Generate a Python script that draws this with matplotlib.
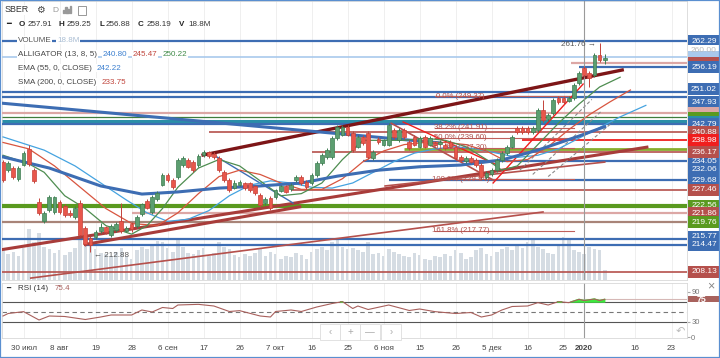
import numpy as np
import matplotlib.pyplot as plt
from matplotlib.patches import Rectangle
import matplotlib.transforms as mtransforms

plt.rcParams['font.family'] = ['Liberation Sans', 'DejaVu Sans']

# daily candles, bar 0 = 24 Jul 2019 ... bar 117 = 10 Jan 2020
opens = [233.9, 232.0, 232.5, 229.9, 233.3, 237.0, 232.0, 224.5, 220.0, 222.7,
         222.2, 224.5, 223.5, 222.0, 221.0, 224.3, 218.5, 216.1, 216.4, 217.8,
         218.6, 216.8, 218.0, 220.1, 217.8, 219.4, 218.8, 221.7, 224.8, 222.2,
         225.3, 228.6, 230.9, 229.7, 230.4, 233.2, 234.4, 233.9, 233.2, 235.6,
         236.2, 235.9, 234.9, 231.6, 229.7, 227.9, 228.6, 228.9, 228.9, 228.2,
         226.2, 224.3, 225.5, 225.7, 227.2, 228.2, 227.6, 229.7, 230.4, 229.2,
         229.0, 230.9, 233.7, 235.1, 235.1, 239.5, 240.3, 242.1, 240.7, 237.5,
         239.8, 240.7, 234.9, 239.3, 238.0, 238.0, 241.4, 239.1, 241.4, 238.6,
         239.8, 237.5, 239.8, 238.0, 238.4, 238.2, 238.0, 238.7, 237.5, 235.1,
         234.2, 234.9, 234.4, 233.2, 230.4, 231.0, 232.0, 234.4, 236.0, 237.5,
         241.9, 241.9, 241.9, 241.0, 241.4, 246.1, 244.0, 245.4, 248.9, 248.9,
         248.3, 248.9, 252.4, 256.0, 254.8, 254.3, 259.0, 257.91]
closes = [229.7, 233.7, 230.4, 232.5, 236.0, 233.5, 229.5, 222.0, 222.0, 225.7,
          225.7, 222.2, 221.5, 221.6, 223.1, 216.8, 214.7, 214.5, 217.5, 218.6,
          217.6, 218.8, 219.4, 217.7, 218.5, 218.2, 221.0, 224.0, 223.2, 225.7,
          226.6, 230.9, 229.7, 228.0, 234.4, 234.9, 232.8, 232.0, 235.4, 236.3,
          235.3, 235.0, 232.0, 229.7, 227.4, 229.0, 229.3, 227.8, 227.4, 226.6,
          223.8, 225.2, 223.1, 227.3, 228.2, 227.0, 228.6, 230.4, 229.0, 228.0,
          230.9, 233.7, 235.6, 236.7, 239.5, 242.1, 242.1, 240.3, 236.7, 239.8,
          238.4, 235.1, 236.3, 238.5, 239.0, 242.6, 239.8, 241.4, 239.8, 237.2,
          238.0, 239.5, 237.5, 239.5, 238.0, 238.6, 237.2, 237.5, 234.9, 234.4,
          234.9, 234.0, 233.2, 230.4, 231.3, 232.0, 234.4, 236.0, 237.5, 239.8,
          241.0, 241.0, 241.0, 241.9, 246.1, 243.8, 245.0, 248.5, 248.0, 248.0,
          248.9, 252.0, 254.8, 254.3, 253.6, 259.0, 257.8, 258.19]
highs = [234.5, 234.2, 233.0, 233.0, 236.5, 238.0, 232.5, 225.5, 222.5, 226.2,
         226.0, 225.0, 224.0, 222.6, 223.5, 225.0, 219.0, 216.5, 218.0, 219.5,
         219.0, 219.4, 219.8, 224.3, 219.0, 219.8, 221.5, 224.4, 225.3, 226.2,
         227.2, 231.4, 231.3, 230.1, 234.8, 235.4, 234.8, 234.3, 235.8, 236.8,
         236.6, 236.3, 235.3, 232.0, 230.1, 229.6, 229.8, 229.3, 229.3, 228.6,
         226.6, 225.7, 226.0, 227.7, 228.6, 228.6, 229.0, 230.8, 230.8, 229.6,
         231.3, 234.1, 236.0, 237.1, 239.9, 242.5, 242.6, 242.5, 241.1, 240.2,
         240.2, 241.1, 236.7, 239.7, 239.4, 243.0, 241.8, 241.8, 241.8, 239.0,
         240.2, 239.9, 240.2, 239.9, 238.8, 239.0, 238.4, 239.1, 237.9, 235.5,
         235.3, 235.3, 234.8, 233.6, 231.7, 232.4, 234.8, 236.4, 237.9, 240.2,
         242.3, 242.3, 242.3, 242.3, 246.5, 248.4, 245.4, 248.9, 249.3, 249.3,
         249.4, 252.4, 255.2, 256.4, 255.2, 259.4, 261.76, 259.25]
lows = [229.3, 231.6, 230.0, 229.5, 233.0, 233.0, 229.0, 221.5, 219.5, 222.3,
        221.8, 221.8, 221.0, 221.0, 220.6, 216.5, 214.2, 212.88, 215.8, 217.3,
        217.0, 216.4, 217.6, 217.3, 217.4, 217.6, 218.4, 221.3, 222.8, 221.8,
        224.8, 228.2, 229.2, 227.5, 230.0, 232.8, 232.4, 231.5, 232.8, 235.2,
        234.9, 234.6, 231.6, 229.3, 227.0, 227.5, 228.2, 227.4, 227.0, 226.2,
        223.4, 223.9, 222.7, 225.3, 226.8, 226.6, 227.2, 229.3, 228.6, 227.6,
        228.6, 230.5, 233.3, 234.7, 234.7, 239.1, 239.9, 239.9, 236.3, 237.1,
        238.0, 234.7, 234.5, 238.1, 237.6, 237.6, 239.4, 238.7, 239.4, 236.8,
        237.6, 237.1, 237.1, 237.6, 237.6, 237.8, 236.8, 237.1, 234.5, 234.0,
        233.8, 233.6, 232.8, 229.84, 230.0, 230.6, 231.6, 234.0, 235.6, 237.1,
        240.6, 240.6, 240.6, 240.6, 241.0, 243.4, 243.6, 245.0, 247.6, 247.6,
        247.9, 248.5, 252.0, 253.9, 251.5, 253.9, 257.4, 256.88]
volumes = [55, 48, 52, 45, 60, 95, 70, 88, 62, 58,
           50, 55, 47, 52, 60, 85, 80, 75, 58, 50,
           48, 45, 52, 60, 44, 40, 55, 62, 58, 66,
           72, 70, 60, 52, 75, 62, 50, 48, 55, 60,
           45, 50, 70, 62, 58, 46, 42, 48, 45, 50,
           60, 44, 52, 48, 40, 45, 42, 50, 46, 40,
           52, 58, 62, 55, 70, 75, 62, 58, 60, 56,
           52, 70, 48, 50, 45, 58, 52, 48, 44, 42,
           50, 46, 40, 38, 45, 42, 48, 44, 55, 50,
           40, 42, 55, 60, 48, 45, 52, 58, 62, 55,
           65, 60, 70, 75, 62, 58, 50, 48, 66, 80,
           78, 56, 52, 48, 62, 58, 55, 18.8]

# indicator lines: (bar, value)
ema55_x = [0, 9, 19, 27, 34, 42, 50, 58, 65, 73, 81, 89, 97, 104, 112, 117]
ema55_y = [235.1, 232.5, 228.3, 226.4, 226.9, 227.8, 228.3, 229.0, 230.6, 232.0,
           232.8, 233.2, 234.4, 236.7, 240.0, 242.2]
jaw_x = [0, 8, 14, 19, 24, 28, 32, 36, 40, 44, 48, 52, 56, 60, 64, 68, 72, 76,
         80, 84, 88, 92, 96, 100, 104, 108, 112, 116, 120, 125]
jaw_y = [239.8, 236.7, 233.0, 229.0, 225.0, 222.0, 220.0, 220.5, 222.5, 226.0,
         228.5, 229.5, 229.0, 228.0, 227.8, 229.0, 231.5, 234.0, 236.0, 237.0,
         237.5, 237.0, 236.0, 235.0, 235.5, 237.0, 239.5, 242.0, 244.5, 247.2]
teeth_x = [0, 5, 10, 15, 20, 25, 30, 34, 38, 42, 46, 50, 54, 58, 62, 66, 70, 74,
           78, 82, 86, 90, 94, 98, 102, 106, 110, 114, 118, 122]
teeth_y = [238.5, 237.0, 233.0, 228.0, 223.0, 219.5, 219.0, 222.0, 226.5, 230.5,
           232.0, 231.0, 229.0, 227.5, 227.5, 230.0, 234.0, 236.5, 238.0, 238.5,
           238.5, 238.0, 236.5, 234.0, 234.5, 237.5, 241.5, 245.0, 248.0, 250.8]
lips_x = [0, 5, 8, 12, 16, 20, 25, 28, 31, 34, 38, 42, 46, 50, 54, 58, 62, 66,
          70, 74, 78, 82, 86, 90, 94, 97, 100, 104, 108, 112, 116, 120]
lips_y = [235.5, 233.5, 231.5, 226.0, 223.0, 219.0, 217.0, 219.0, 223.0, 228.0,
          232.5, 234.5, 233.0, 229.5, 226.0, 226.5, 229.0, 234.5, 239.0, 239.0,
          239.0, 239.5, 239.0, 237.5, 234.5, 232.0, 233.0, 238.0, 243.0, 247.5,
          251.5, 253.8]
rsi_x = [0, 1, 4, 7, 9, 12, 16, 19, 21, 25, 27, 29, 31, 33, 34, 38, 41, 44, 46, 50,
         52, 53, 56, 58, 61, 64, 66, 68, 69, 71, 75, 79, 81, 84, 88, 91, 93, 95, 97, 99,
         102, 104, 106, 108, 110, 112, 113, 115, 116, 117]
rsi_y = [42, 47, 50.7, 34, 42, 41, 35, 40, 44, 44, 54, 50, 59, 57, 64, 65.3, 62, 51, 52.7, 42,
         40, 51, 54, 51, 60, 67, 70.7, 57, 62, 55, 64, 53, 56, 50.7, 47, 49, 40, 44, 54, 61,
         62, 68.7, 64, 70.7, 68.7, 75.3, 72.7, 76, 72.7, 75.4]

# horizontal levels: price and first bar (None = whole width)
level_prices = [262.29, 258.5, 257.1, 256.19, 250.4, 249.2, 245.4, 244.5, 243.6,
                242.79, 240.88, 238.98, 236.9, 236.17, 234.05, 229.68, 227.46,
                223.6, 221.86, 219.76, 215.77, 214.47, 208.13]
level_start = [None, None, 110.5, 112, None, None, None, None, None,
               None, 40, 101, 78, 60, 70, 75, 56,
               None, 25, None, None, 16, None]
level_kind = ['blue', 'lblue', 'pink', 'blue', 'blue', 'blue', 'pink', 'dgreen', 'teal',
              'blue', 'red', 'bred', 'olive', 'red', 'blue', 'blue', 'red',
              'green', 'pink', 'brown', 'blue', 'blue', 'red']

# trend lines drawn on the chart: (bar, price) pairs
trend_lines = [
    [(38.9, 235.56), (120.4, 255.49)],
    [(-0.6, 213.3), (125.2, 237.4)],
    [(16.0, 214.6), (57.7, 223.4)],
    [(5.4, 206.7), (105.0, 222.2)],
    [(74.3, 228.3), (117.0, 233.9)],
    [(-0.6, 247.75), (85.0, 238.4)],
    [(41.6, 235.1), (56.4, 224.3)],
    [(77.8, 243.3), (96.1, 233.2)],
    [(95.3, 229.0), (112.8, 252.2)],
    [(75.5, 243.0), (95.3, 229.7)],
]
trend_kind = ['maroon', 'brick', 'brick', 'red', 'red', 'blue', 'blue', 'bred', 'bred', 'red']
dashed_lines = [
    [(100.5, 232.0), (114.5, 248.6)],
    [(103.0, 231.0), (116.5, 246.0)],
    [(106.0, 230.5), (118.5, 243.2)],
]

fib_levels = [249.37, 241.91, 239.60, 237.30, 229.84, 217.77]
fib_names = ['0.0%', '38.2%', '50.0%', '61.8%', '100.0%', '161.8%']

# right side price labels, drawn in this order
tag_prices = [262.29, 260.0, 258.5, 257.1, 256.19, 251.0, 247.93, 245.4, 244.3, 243.4,
              242.79, 240.88, 238.98, 232.06, 234.05, 236.17, 229.68, 227.46,
              223.65, 221.86, 219.76, 216.35, 214.47, 208.13]
tag_text = ['262.29', '260.00', '', '', '256.19', '251.02', '247.93', '', '', '',
            '242.79', '240.88', '238.98', '232.06', '234.05', '236.17', '229.68', '227.46',
            '222.56', '221.86', '219.76', '215.77', '214.47', '208.13']
tag_kind = ['blue', 'white', 'lblue', 'red', 'blue', 'blue', 'blue', 'pink', 'green', 'teal',
            'blue', 'red', 'bred', 'blue', 'blue', 'red', 'blue', 'red',
            'green', 'red', 'green', 'blue', 'blue', 'red']

tick_pos = [4, 11, 18, 25, 32, 39, 46, 53, 60, 67, 74, 81, 88, 95, 102, 109, 113, 122.9, 130]
tick_lab = ['30 июл', '8 авг', '19', '28', '6 сен', '17', '26', '7 окт', '16', '25',
            '6 ноя', '15', '26', '5 дек', '16', '25', '2020', '16', '23']

colors = {'blue': '#3d6db3', 'lblue': '#a9c9ec', 'pink': '#dca7a5', 'dgreen': '#3f7d3c',
          'teal': '#2a8fa8', 'red': '#b5504c', 'bred': '#f01e1e', 'olive': '#86ad2e',
          'green': '#5a9a1f', 'brown': '#a88478', 'maroon': '#7d1517', 'brick': '#a83c3a',
          'white': '#ffffff'}

W, H = 720, 358
fig = plt.figure(figsize=(W / 100, H / 100), dpi=100)


def fx(px):
    return px / W


def fy(py):
    return 1 - py / H


LEFT, RIGHT = 2, 687
rect_main = [fx(LEFT), fy(280), fx(RIGHT) - fx(LEFT), fy(1) - fy(280)]
axv = fig.add_axes(rect_main, zorder=0)
ax = fig.add_axes(rect_main, zorder=1)
ax.patch.set_alpha(0)
axr = fig.add_axes([fx(LEFT), fy(338), fx(RIGHT) - fx(LEFT), fy(283) - fy(338)])

xlim = (-0.2, 133.0)
ylim = (206.25, 271.67)
n = len(closes)
idx = np.arange(n)

# volume under everything
axv.bar(idx, volumes, width=0.7, color='#d5dce3', zorder=1)
axv.set_xlim(xlim)
axv.set_ylim(0, 520)
axv.set_xticks(tick_pos)
axv.set_yticks([])
axv.tick_params(length=0, labelbottom=False)
axv.grid(axis='x', color='#efefef', lw=0.7)
for s in axv.spines.values():
    s.set_color('#d8d8d8')
    s.set_linewidth(0.6)

ax.set_xlim(xlim)
ax.set_ylim(ylim)
ax.set_xticks([])
ax.set_yticks([])
for s in ax.spines.values():
    s.set_visible(False)

# horizontal levels
for p, st, k in zip(level_prices, level_start, level_kind):
    x0 = xlim[0] if st is None else st
    lw = {'blue': 1.6, 'teal': 2.2, 'green': 3.0, 'olive': 2.0, 'pink': 1.6, 'lblue': 1.2,
          'dgreen': 0.9, 'red': 1.2, 'bred': 1.3, 'brown': 1.6}[k]
    ax.plot([x0, xlim[1]], [p, p], color=colors[k], lw=lw, zorder=2, solid_capstyle='butt')

# fibonacci levels
for p, nm in zip(fib_levels, fib_names):
    ax.plot([84, 111], [p, p], color='#c0605c', lw=0.8, zorder=3)
    ax.text(89, p, f'{nm} ({p:.2f})', fontsize=5.6, color='#b0504c', ha='center',
            va='center', zorder=6)

# trend lines
for seg, k in zip(trend_lines, trend_kind):
    (x0, y0), (x1, y1) = seg
    lw = {'maroon': 2.4, 'brick': 2.2, 'red': 1.2, 'blue': 2.2, 'bred': 1.0}[k]
    if k == 'blue' and x0 > 20:
        lw = 1.0
    ax.plot([x0, x1], [y0, y1], color=colors[k], lw=lw, zorder=3)
for (x0, y0), (x1, y1) in dashed_lines:
    ax.plot([x0, x1], [y0, y1], color='#8a8a8a', lw=0.8, ls=(0, (3, 2)), zorder=3)

# alligator and ema
ax.plot(jaw_x, jaw_y, color='#45a3e0', lw=0.9, zorder=4)
ax.plot(teeth_x, teeth_y, color='#d8553f', lw=0.9, zorder=4)
ax.plot(lips_x, lips_y, color='#4e8d50', lw=0.9, zorder=4)
ax.plot(ema55_x, ema55_y, color='#3d6db3', lw=2.2, zorder=4)

# candles
o = np.array(opens)
c = np.array(closes)
up = c >= o
body_col = np.where(up, '#5c9e70', '#e8574b')
edge_col = np.where(up, '#3f7d52', '#c4423a')
ax.vlines(idx, lows, highs, colors=edge_col, lw=0.7, zorder=5)
ax.bar(idx, np.maximum(np.abs(c - o), 0.18), bottom=np.minimum(o, c), width=0.72,
       color=body_col, edgecolor=edge_col, lw=0.5, zorder=6)

ax.axvline(113, color='#9a9a9a', lw=0.8, zorder=4)

# extremes
ax.text(17.6, 212.0, '← 212.88', fontsize=5.8, color='#555555', va='center', zorder=7)
ax.text(115.3, 261.4, '261.76 →', fontsize=5.8, color='#555555', ha='right', va='center',
        zorder=7)

# price tags on the right
btrans = mtransforms.blended_transform_factory(ax.transAxes, ax.transData)
bx, bw, bh = (688 - LEFT) / (RIGHT - LEFT), 32 / (RIGHT - LEFT), 12 / 4.265
for p, t, k in zip(tag_prices, tag_text, tag_kind):
    fc = colors[k]
    ax.add_patch(Rectangle((bx, p - bh / 2), bw, bh, transform=btrans, facecolor=fc,
                           edgecolor='none', clip_on=False, zorder=8))
    tc = '#bbbbbb' if k == 'white' else 'white'
    ax.text(bx + bw / 2, p, t, transform=btrans, fontsize=6.0, color=tc, ha='center',
            va='center', clip_on=False, zorder=9)

# RSI panel
axr.set_xlim(xlim)
axr.set_ylim(-2, 108)
axr.axhline(70, color='#555555', lw=0.8)
axr.axhline(30, color='#555555', lw=0.8)
axr.axhline(50, color='#777777', lw=0.8, ls=(0, (4, 3)))
axr.plot(rsi_x, rsi_y, color='#a8605c', lw=0.8, zorder=4)
ry = np.array(rsi_y, dtype=float)
axr.fill_between(rsi_x, 70, ry, where=ry > 70, interpolate=True, color='#3ee83e', zorder=3)
axr.plot([112, xlim[1]], [75.4, 75.4], color='#d6b8b6', lw=0.8)
axr.axvline(113, color='#9a9a9a', lw=0.8)
axr.set_xticks(tick_pos)
axr.set_xticklabels(tick_lab, fontsize=5.8, color='#444444')
axr.get_xticklabels()[16].set_fontweight('bold')
axr.tick_params(axis='x', length=0, pad=5)
axr.grid(axis='x', color='#efefef', lw=0.7)
axr.yaxis.tick_right()
axr.set_yticks([0, 30, 90])
axr.set_yticklabels(['0', '30', '90'], fontsize=5.5, color='#777777')
axr.tick_params(axis='y', length=2, color='#aaaaaa', pad=1)
for s in axr.spines.values():
    s.set_color('#d8d8d8')
    s.set_linewidth(0.6)
rtrans = mtransforms.blended_transform_factory(axr.transAxes, axr.transData)
axr.add_patch(Rectangle((bx, 75.4 - 6), bw, 12, transform=rtrans, facecolor='#a8625d',
                        edgecolor='none', clip_on=False, zorder=8))
axr.text(bx + 0.012, 75.4, '75', transform=rtrans, fontsize=6.4, color='white',
         fontweight='bold', va='center', clip_on=False, zorder=9)
axr.text(0.006, 98, '━', transform=rtrans, fontsize=5, color='#333333', va='center')
axr.text(0.024, 98, 'RSI (14)', transform=rtrans, fontsize=5.8, color='#333333', va='center')
axr.text(0.077, 98, '75.4', transform=rtrans, fontsize=5.8, color='#a8605c', va='center')

# navigation buttons and little icons
for px, s in [(330, '‹'), (350, '+'), (370, '—'), (391, '›')]:
    fig.patches.append(Rectangle((fx(px - 10), fy(340)), 20 / W, 16 / H, transform=fig.transFigure,
                                 facecolor='white', edgecolor='#dddddd', lw=0.6))
    fig.text(fx(px), fy(332), s, fontsize=7, color='#aaaaaa', ha='center', va='center')
fig.text(fx(680), fy(331), '↶', fontsize=8, color='#bbbbbb', ha='center', va='center')
fig.text(fx(711), fy(286), '×', fontsize=9, color='#888888', ha='center', va='center')

# header legend
wb = dict(facecolor='white', edgecolor='none', pad=0.4)
fig.text(fx(5), fy(10), 'SBER', fontsize=6.4, color='#333333', va='center', bbox=wb)
fig.text(fx(36), fy(10), '⚙', fontsize=7, color='#444444', va='center')
fig.text(fx(52), fy(10), 'D', fontsize=6, color='#999999', va='center')
for k, hgt in enumerate([3, 6, 4, 7]):
    fig.patches.append(Rectangle((fx(63 + k * 2.2), fy(13)), 1.3 / W, hgt / H,
                                 transform=fig.transFigure, color='#999999'))
fig.patches.append(Rectangle((fx(78), fy(15)), 8 / W, 9 / H, transform=fig.transFigure,
                             facecolor='none', edgecolor='#888888', lw=0.6))

row2 = [(6, '━', 'bold', '#222222'), (19, 'O', 'bold', '#222222'), (28, '257.91', 'normal', '#333333'),
        (58, 'H', 'bold', '#222222'), (67, '259.25', 'normal', '#333333'),
        (99, 'L', 'bold', '#222222'), (106, '256.88', 'normal', '#333333'),
        (138, 'C', 'bold', '#222222'), (147, '258.19', 'normal', '#333333'),
        (179, 'V', 'bold', '#222222'), (188, '18.8M', 'normal', '#333333')]
for px, s, fw, col in row2:
    fig.text(fx(px), fy(25), s, fontsize=5.8, fontweight=fw, color=col, va='center')

legend_rows = [
    (40, [('VOLUME', '#555555'), ('18.8M', '#a9bdd3')]),
    (54, [('ALLIGATOR (13, 8, 5)', '#444444'), ('240.80', '#3a7fd0'),
          ('245.47', '#c0453c'), ('250.22', '#3f8a48')]),
    (68, [('EMA (55, 0, CLOSE)', '#444444'), ('242.22', '#3a7fd0')]),
    (82, [('SMA (200, 0, CLOSE)', '#444444'), ('233.75', '#c0453c')]),
]
legend_x = {40: [18, 57], 54: [18, 103, 133, 163], 68: [18, 97], 82: [18, 102]}
for py, parts in legend_rows:
    for (s, col), px in zip(parts, legend_x[py]):
        fig.text(fx(px), fy(py), s, fontsize=5.8, color=col, va='center', bbox=wb)

fig.patches.append(Rectangle((0, 0), 1, 1, transform=fig.transFigure, facecolor='none',
                             edgecolor='#5a8fd0', lw=1.6))

fig.savefig('out.png', dpi=100)
